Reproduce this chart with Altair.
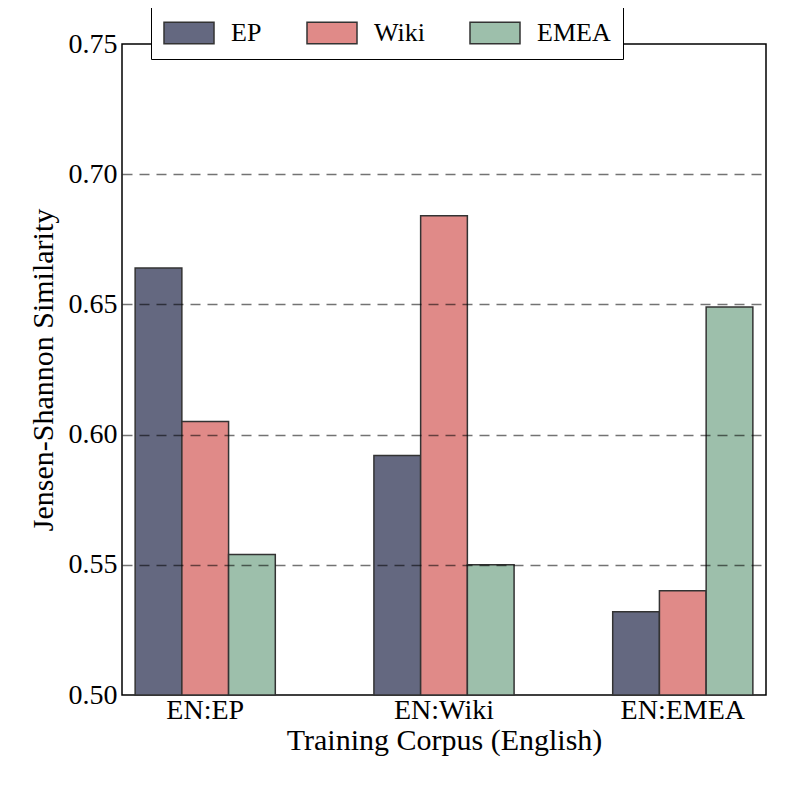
import altair as alt
import pandas as pd

corpus = ["EN:EP", "EN:Wiki", "EN:EMEA"]
series = ["EP", "Wiki", "EMEA"]
ep_vals = [0.664, 0.592, 0.532]
wiki_vals = [0.605, 0.684, 0.540]
emea_vals = [0.554, 0.550, 0.649]
colors = ["#646880", "#E08A88", "#9DBFAB"]
y_ticks = [0.50, 0.55, 0.60, 0.65, 0.70, 0.75]

rows = []
for s, vals in zip(series, [ep_vals, wiki_vals, emea_vals]):
    for c, v in zip(corpus, vals):
        rows.append({"corpus": c, "series": s, "value": v})
df = pd.DataFrame(rows)

FONT = "Liberation Serif"

chart = alt.Chart(df).mark_bar(stroke="#333333", strokeWidth=1.5, opacity=1).encode(
    x=alt.X(
        "corpus:N", sort=corpus,
        scale=alt.Scale(paddingInner=0.413, paddingOuter=0.055),
        axis=alt.Axis(
            title="Training Corpus (English)", labelAngle=0, tickSize=0, domain=False,
            grid=False, labelFont=FONT, labelFontSize=28, labelPadding=1,
            titleFont=FONT, titleFontSize=30, titleY=54, titleBaseline="alphabetic",
        ),
    ),
    xOffset=alt.XOffset("series:N", sort=series),
    y=alt.Y(
        "value:Q",
        scale=alt.Scale(domain=[0.5, 0.75], zero=False, nice=False),
        axis=alt.Axis(
            title="Jensen-Shannon Similarity", values=y_ticks, format=".2f",
            tickSize=0, domain=False, grid=True, gridColor="black",
            gridOpacity={"condition": {"test": "datum.value > 0.74 || datum.value < 0.51", "value": 0}, "value": 0.55},
            gridDash=[10, 7], gridWidth=1.3, labelFont=FONT, labelFontSize=28, labelPadding=5,
            titleFont=FONT, titleFontSize=30, titleX=-70, titleBaseline="alphabetic", titleAngle=270,
            zindex=1,
        ),
    ),
    y2=alt.Y2Datum(0.5),
    color=alt.Color(
        "series:N", sort=series,
        scale=alt.Scale(domain=series, range=colors),
        legend=alt.Legend(
            title=None, orient="none", legendX=29, legendY=-37, direction="horizontal",
            symbolType="M-1,-0.86H3V0.86H-1Z", symbolSize=625,
            symbolStrokeColor="#333333", symbolStrokeWidth=1.5, symbolOpacity=1,
            labelFont=FONT, labelFontSize=26, labelOffset=41, columnPadding=42, padding=12,
            strokeColor="black", fillColor="white", zindex=2,
        ),
    ),
).properties(
    width=644, height=651,
    autosize=alt.AutoSizeParams(type="none"),
    padding={"left": 114, "top": 36, "right": 15, "bottom": 80},
).configure_view(
    stroke="black", strokeWidth=1.5,
).configure_axis(
    labelFont=FONT, titleFont=FONT, labelColor="black", titleColor="black",
    titleFontWeight="normal",
).configure_legend(
    labelFont=FONT, labelColor="black",
)

chart.save("out.html", embed_options={"renderer": "svg", "actions": False})
